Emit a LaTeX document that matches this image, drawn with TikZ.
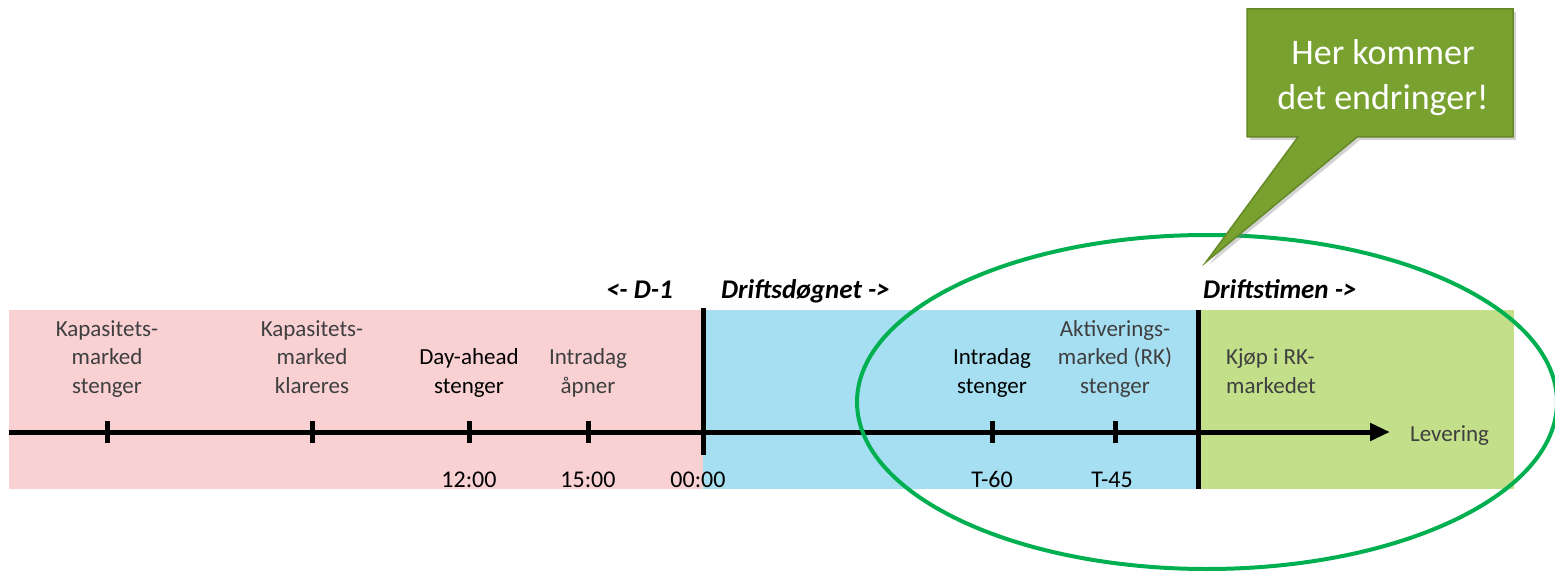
\documentclass[tikz,border=0pt]{standalone}
\usepackage{fontspec}
\setmainfont{Carlito}
\usetikzlibrary{arrows.meta,shadows}
\definecolor{pinkbg}{HTML}{F9D1D3}
\definecolor{bluebg}{HTML}{A6DFF2}
\definecolor{greenbg}{HTML}{C3DF8A}
\definecolor{calloutgreen}{HTML}{78A12F}
\definecolor{ellipsegreen}{HTML}{00B050}
\definecolor{lighttext}{HTML}{3F3F3F}
\begin{document}
\begin{tikzpicture}[x=1pt,y=-1pt,
  lbl/.style={align=center, font=\fontsize{23}{28.5}\selectfont, text=lighttext, inner sep=0pt, anchor=base},
  lblstrong/.style={lbl, text=black},
  lblleft/.style={lbl, align=left, anchor=base west},
  timelbl/.style={font=\fontsize{24}{28}\selectfont, text=black, inner sep=0pt, anchor=base},
  header/.style={font=\fontsize{27}{30}\selectfont\bfseries\itshape, text=black, inner sep=0pt},
  axis/.style={line width=5pt},
  tickmark/.style={line width=5pt},
  divider/.style={line width=5pt},
]
\useasboundingbox (0,0) rectangle (1555,572);

% background bands
\fill[pinkbg] (9,310) rectangle (703,489);
\fill[bluebg] (703,310) rectangle (1198,489);
\fill[greenbg] (1198,310) rectangle (1514,489);

% timeline
\coordinate (start) at (9,432);
\coordinate (end) at (1390,432);
\draw[axis, -{Triangle[length=20pt,width=17pt]}] (start) -- (end);

% ticks
\foreach \x/\n in {107/t1,312/t2,469/t3,588/t4,992/t5,1115/t6}{
  \coordinate (\n) at (\x,432);
  \draw[tickmark] (\x,421) -- (\x,443);
}

% dividers
\coordinate (d1top) at (703,308);
\coordinate (d1bot) at (703,455);
\draw[divider] (d1top) -- (d1bot);
\coordinate (d2top) at (1198,310);
\coordinate (d2bot) at (1198,489);
\draw[divider] (d2top) -- (d2bot);

% labels above (base anchor = baseline of last line)
\node[lbl] (kms) at (107,393) {Kapasitets-\\marked\\stenger};
\node[lbl] (kmk) at (312,393) {Kapasitets-\\marked\\klareres};
\node[lblstrong] (das) at (469,393) {Day-ahead\\stenger};
\node[lbl] (ida) at (588,393) {Intradag\\åpner};
\node[lblstrong] (ids) at (992,393) {Intradag\\stenger};
\node[lbl] (akt) at (1115,393) {Aktiverings-\\marked (RK)\\stenger};
\node[lblleft] (kjop) at (1226,393) {Kjøp i RK-\\markedet};
\node[lbl, anchor=base west] (lev) at (1410,441) {Levering};

% time labels
\node[timelbl] (h12) at (469,487) {12:00};
\node[timelbl] (h15) at (588,487) {15:00};
\node[timelbl] (h00) at (698,487) {00:00};
\node[timelbl] (t60) at (992,487) {T-60};
\node[timelbl] (t45) at (1112,487) {T-45};

% headers
\node[header, anchor=base east] (dm1) at (673,298) {<- D-1};
\node[header, anchor=base west] (dd) at (721,298) {Driftsdøgnet ->};
\node[header, anchor=base west] (dt) at (1203,298) {Driftstimen ->};

% ellipse
\draw[ellipsegreen, line width=4pt] (1207,402) ellipse [x radius=350, y radius=167];

% callout
\coordinate (tip) at (1206,262);
\fill[calloutgreen, draw=calloutgreen!85!black, line width=1.5pt, drop shadow={shadow xshift=3pt, shadow yshift=-3pt, opacity=0.35}]
  (1247,9) -- (1513,9) -- (1513,137) -- (1357,137) -- (tip) -- (1298,137) -- (1247,137) -- cycle;
\node[align=center, text=white, font=\fontsize{36}{45}\selectfont, inner sep=0pt, anchor=base] (callout) at (1383,110) {Her kommer\\det endringer!};
\end{tikzpicture}
\end{document}
